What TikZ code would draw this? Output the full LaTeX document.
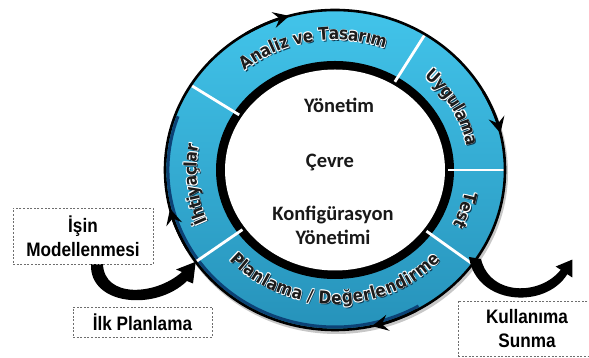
\documentclass[tikz,border=0pt]{standalone}
\usepackage{fontspec}
\usetikzlibrary{arrows.meta,decorations.text}

\newfontfamily\ringfont{DejaVu Sans}[FakeStretch=0.88]
\newfontfamily\boxfont{Liberation Sans}[FakeStretch=0.88]
\newfontfamily\hubfont{Carlito}

\definecolor{ringtop}{RGB}{66,196,234}
\definecolor{ringbottom}{RGB}{38,146,186}
\definecolor{ringtext}{RGB}{28,28,28}
\definecolor{ringshadow}{RGB}{12,60,85}
\definecolor{navyband}{RGB}{12,66,118}
\definecolor{boxline}{RGB}{110,110,110}
\definecolor{hubtext}{RGB}{25,25,25}

\newcommand\ringtextstyle{\ringfont\bfseries\fontsize{17.5}{20}\selectfont}

% Label bent along an elliptical arc of the ring, with a drop shadow and a light halo.
% #1 label, #2 start angle, #3 end angle, #4 x radius, #5 y radius
\newcommand\arclabel[5]{%
  \foreach \dx/\dy/\tc in {1.4/-1.4/ringshadow,-0.6/0.6/white,0.6/0.6/white,-0.6/-0.6/white,0.6/-0.6/white,0/0/ringtext}{%
    \path[shift={(\dx pt,\dy pt)},decorate,
          decoration={text along path,text={|\ringtextstyle|#1},text align=center,raise=-6pt,text color=\tc}]
      (#2:#4pt and #5pt) arc[start angle=#2,end angle=#3,x radius=#4pt,y radius=#5pt];
  }%
}

\begin{document}
\begin{tikzpicture}[x=1pt,y=1pt,
  hub/.style={font=\hubfont\bfseries\fontsize{20.5}{24}\selectfont,text=hubtext,inner sep=0pt,align=center},
  notebox/.style={draw=boxline,line width=0.7pt,dash pattern=on 2pt off 1.6pt,fill=white,
                  font=\boxfont\bfseries\fontsize{19.5}{23.5}\selectfont,align=center,inner sep=0pt},
  separator/.style={white,line width=2.8pt},
  rim/.style={black,line width=2.6pt},
  rimtip/.style={rim,-{Stealth[length=16pt,width=16pt,inset=6pt]}},
  bendarrow/.style={fill=black},
]
\useasboundingbox (0,0) rectangle (589,358);
\clip (0,0) rectangle (589,358);

% ---- the life-cycle ring ----
\begin{scope}[shift={(335,188)}]
  \coordinate (hub) at (0,0);
  \draw[black!22,line width=3pt] (1.5,-2.5) ellipse [x radius=170pt,y radius=160pt];
  \shade[top color=ringtop,bottom color=ringbottom] (0,0) ellipse [x radius=170pt,y radius=160pt];
  \draw[navyband,line width=3pt] (160:167pt and 157pt) arc[start angle=160,end angle=300,x radius=167pt,y radius=157pt];
  \fill[black] (0,0) ellipse [x radius=119pt,y radius=109pt];
  \fill[white] (0,0) ellipse [x radius=110pt,y radius=100.5pt];
  \foreach \a in {148,58,0,-36,215}
    \draw[separator] (\a:171pt and 161pt) -- (\a:113pt and 104pt);
  \draw[rim] (0,0) ellipse [x radius=170pt,y radius=160pt];
  \foreach \a in {105.6,13.3,-77.4,194}
    \draw[rimtip] ({\a+16}:170pt and 160pt) arc[start angle=\a+16,end angle=\a,x radius=170pt,y radius=160pt];
  \coordinate (ringSW) at (215:170pt and 160pt);

  \arclabel{Analiz ve Tasarım}{165}{35}{145.5}{136}
  \arclabel{Uygulama}{74}{-16}{140.2}{131}
  \arclabel{Test}{12}{-48}{138}{129}
  \arclabel{Planlama / Değerlendirme}{-170}{-10}{137}{128}
  \arclabel{İhtiyaçlar}{231}{141}{144.5}{135}
\end{scope}

% ---- texts in the middle ----
\node[hub] (mgmt) at (339,253) {Yönetim};
\node[hub] (env) at (330,195) {Çevre};
\node[hub] (config) at (333,133) {Konfigürasyon\\Yönetimi};

% ---- side steps ----
\coordinate (modelling-foot) at (83,94);
\coordinate (liftA) at ([xshift=8pt]modelling-foot);
\coordinate (liftB) at ([xshift=20pt]modelling-foot);
\fill[bendarrow] (liftA) .. controls (89,53) and (155,46) .. (187,77) -- (193,74.5)
  -- (ringSW) -- (176,88.5) -- (182,86) .. controls (155,62) and (104,60) .. (liftB) -- cycle;

\coordinate (shipA) at (469,101);
\coordinate (shipB) at (481,99);
\coordinate (shipTip) at (572.3,98.4);
\fill[bendarrow] (shipA) .. controls (476,53) and (545,48) .. (567.3,83.8) -- (572.3,80.5)
  -- (shipTip) -- (555.7,91.5) -- (560.7,88.2) .. controls (540,62) and (490,62) .. (shipB) -- cycle;

\node[notebox,minimum width=140pt,minimum height=56pt] (modelling) at (83,122) {İşin\\Modellenmesi};
\node[notebox,minimum width=139pt,minimum height=30pt] (firstplan) at (142.5,36) {İlk Planlama};
\node[notebox,minimum width=138pt,minimum height=55pt] (delivery) at (527,29.5) {Kullanıma\\Sunma};
\end{tikzpicture}
\end{document}
